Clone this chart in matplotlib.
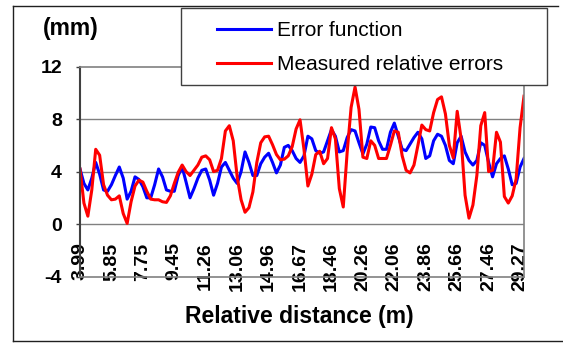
import numpy as np
import matplotlib.pyplot as plt
from matplotlib.patches import Rectangle
from matplotlib.lines import Line2D

# ==============================
# DATA
# ==============================
# category labels shown every 8th point along the distance axis
tick_labels = ["3.99", "5.85", "7.75", "9.45", "11.26", "13.06", "14.96", "16.67",
               "18.46", "20.26", "22.06", "23.86", "25.66", "27.46", "29.27"]
label_every = 8

error_function = [
    4.2, 3.1, 2.6, 3.5, 4.7, 3.8, 2.6, 2.5, 3.0, 3.7,
    4.35, 3.5, 1.9, 2.5, 3.6, 3.4, 2.85, 2.0, 2.0, 3.0,
    4.2, 3.6, 2.6, 2.5, 2.5, 3.7, 4.35, 3.2, 2.0, 2.7,
    3.5, 4.1, 4.2, 3.35, 2.2, 3.1, 4.35, 4.7, 4.1, 3.5,
    3.1, 4.0, 5.5, 4.7, 3.7, 3.7, 4.6, 5.1, 5.4, 4.7,
    3.9, 4.5, 5.85, 6.0, 5.6, 5.0, 4.7, 5.2, 6.7, 6.5,
    5.6, 5.4, 5.5, 6.35, 7.2, 6.7, 5.5, 5.6, 6.6, 7.2,
    7.1, 6.2, 5.35, 6.1, 7.4, 7.35, 6.35, 5.7, 5.7, 7.0,
    7.7, 6.7, 5.7, 5.6, 6.1, 6.6, 7.0, 6.5, 5.0, 5.2,
    6.35, 6.85, 6.7, 6.0, 4.85, 4.6, 6.2, 6.7, 5.5, 4.85,
    4.5, 4.85, 6.2, 6.0, 4.7, 3.6, 4.6, 5.0, 5.2, 4.2,
    3.0, 3.1, 4.35, 5.0,
]

measured_errors = [
    4.2, 1.6, 0.6, 2.6, 5.7, 5.25, 3.0, 2.2, 1.85, 1.9,
    2.15, 0.8, 0.05, 1.7, 2.9, 3.35, 3.2, 2.5, 1.9, 1.85,
    1.85, 1.7, 1.65, 2.15, 3.1, 3.95, 4.5, 4.0, 3.7, 4.1,
    4.5, 5.1, 5.2, 4.9, 4.0, 4.1, 5.0, 7.1, 7.5, 6.35,
    3.6, 1.85, 0.9, 1.25, 2.45, 4.7, 6.2, 6.65, 6.7, 6.05,
    5.3, 4.9, 4.95, 5.2, 5.9, 7.25, 7.95, 5.7, 2.9, 3.8,
    5.3, 5.55, 4.6, 5.0, 7.35, 6.5, 2.7, 1.3, 5.5, 8.9,
    10.45, 8.75, 5.1, 5.0, 6.35, 6.0, 5.0, 5.0, 5.0, 6.0,
    7.1, 7.0, 5.2, 4.1, 3.9, 4.5, 6.0, 7.55, 7.2, 7.1,
    8.5, 9.5, 9.7, 8.4, 6.0, 5.05, 8.6, 6.5, 2.2, 0.45,
    1.45, 3.7, 7.5, 8.5, 4.0, 4.1, 7.0, 6.25, 2.1, 1.6,
    2.15, 3.45, 7.35, 9.75,
]

y_ticks = [-4, 0, 4, 8, 12]

# ==============================
# FIGURE
# ==============================
plt.rcParams['font.family'] = ['Liberation Sans', 'DejaVu Sans']

fig = plt.figure(figsize=(5.63, 3.43), dpi=100)
W, H = 563.0, 343.0
ax = fig.add_axes([80 / W, 1 - 276.5 / H, 444 / W, (276.5 - 66.7) / H])

x = np.arange(len(error_function))
ax.plot(x, error_function, color='#0000FF', lw=2.2, label='Error function')
ax.plot(x, measured_errors, color='#FF0000', lw=2.2, label='Measured relative errors')

ax.set_xlim(0, len(error_function) - 1)
ax.set_ylim(-4, 12)

# gridlines
for v in y_ticks[1:-1]:
    ax.axhline(v, color='#808080', lw=1, zorder=0)

for side in ['top', 'right', 'bottom']:
    ax.spines[side].set_color('#808080')
    ax.spines[side].set_linewidth(1.2)
ax.spines['left'].set_color('#404040')
ax.spines['left'].set_linewidth(1.5)

ax.set_yticks(y_ticks)
ax.set_yticklabels([str(v) for v in y_ticks], fontsize=14, fontweight='bold')
ax.tick_params(axis='y', length=3, width=1, color='#404040', pad=10)

ax.set_xticks(np.arange(len(tick_labels)) * label_every)
ax.set_xticklabels(tick_labels, rotation=90, fontsize=14, fontweight='bold')
ax.tick_params(axis='x', length=0, pad=-24.5)

# axis titles
fig.text(71 / W, 1 - 29 / H, "(mm)", fontsize=16.5, fontweight='bold',
         ha='center', va='center')
fig.text(299 / W, 1 - 317 / H, "Relative distance (m)", fontsize=16.5,
         fontweight='bold', ha='center', va='center')

# legend box (opaque, covers the top of the plot area)
fig.patches.append(Rectangle((180.7 / W, 1 - 85 / H), 366 / W, 76.7 / H,
                             transform=fig.transFigure, facecolor='white',
                             edgecolor='#404040', lw=1, zorder=5))
leg = fig.legend(loc='upper left', bbox_to_anchor=(217 / W, 1 - 21 / H),
                 bbox_transform=fig.transFigure, frameon=False, fontsize=15,
                 borderpad=0, borderaxespad=0, handlelength=2.6,
                 handletextpad=0.27, labelspacing=0.72)
leg.set_zorder(6)

# outer chart frame
frame_kw = dict(transform=fig.transFigure, color='#202020', lw=1)
fig.lines.append(Line2D([13.3 / W, 13.3 / W], [1 - 5.7 / H, 1 - 341.3 / H], **frame_kw))
fig.lines.append(Line2D([13.3 / W, 558 / W], [1 - 5.7 / H, 1 - 5.7 / H], **frame_kw))
fig.lines.append(Line2D([13.3 / W, 1.0], [1 - 341.3 / H, 1 - 341.3 / H], **frame_kw))

fig.savefig('out.png', dpi=100)
